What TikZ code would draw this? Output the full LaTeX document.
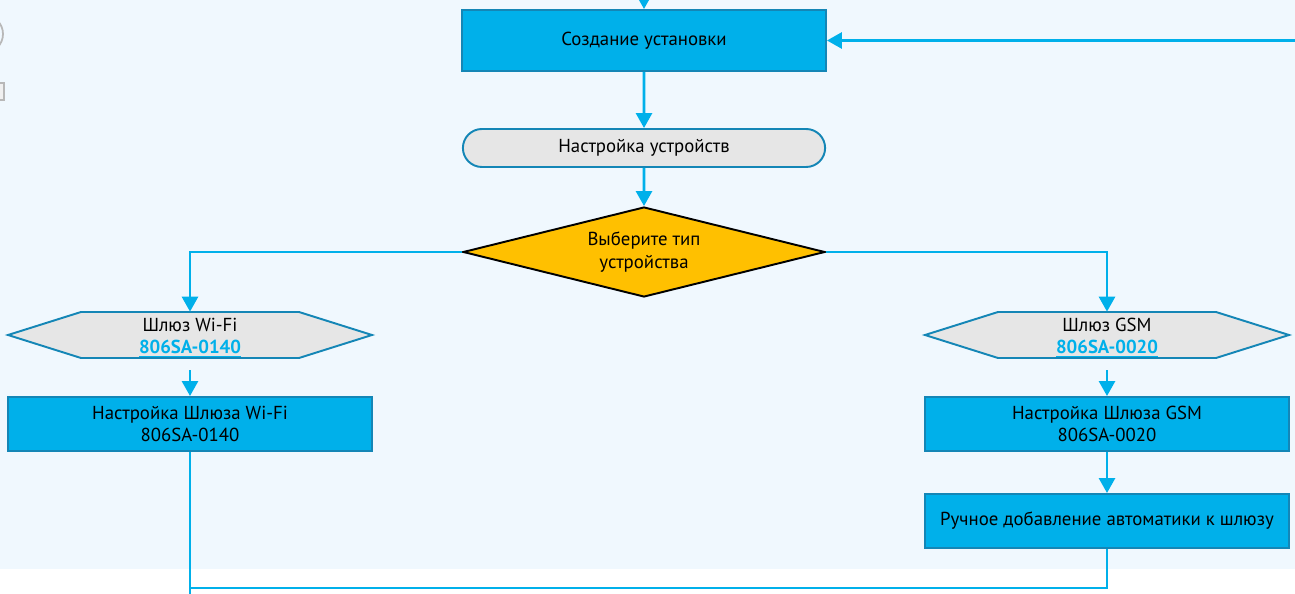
\documentclass[tikz,border=0pt]{standalone}
\usepackage{fontspec}
\setmainfont{PT Sans}
\usepackage{tikz}
\usetikzlibrary{arrows.meta,shapes.geometric,shapes.misc}
\definecolor{flowblue}{HTML}{00B0EA}
\definecolor{boxedge}{HTML}{1486B6}
\definecolor{greyfill}{HTML}{E6E6E6}
\definecolor{bgblue}{HTML}{F0F8FE}
\definecolor{goldfill}{HTML}{FFC000}
\definecolor{fragline}{HTML}{B8B8B8}
\newcommand{\gwcode}[1]{\textcolor{flowblue}{\textbf{\underline{#1}}}}

\begin{document}
\begin{tikzpicture}[x=0.02cm, y=-0.02cm, font=\fontsize{10.7}{12.7}\selectfont,
		box_style/.style={rectangle,draw=boxedge,fill=flowblue,line width=1.1pt,minimum width=7.28cm,minimum height=1.08cm,align=center},
		term_style/.style={rounded rectangle,draw=boxedge,fill=greyfill,line width=1.1pt,minimum width=7.48cm,minimum height=0.76cm},
		dec_style/.style={diamond,aspect=4,draw=black,fill=goldfill,line width=1.1pt,minimum width=7.24cm,minimum height=1.8cm,inner sep=0pt,align=center},
		hex_shape/.style={draw=boxedge,fill=greyfill,line width=1.1pt},
		hex_style/.style={rectangle,minimum width=7.28cm,minimum height=1.04cm,inner sep=0pt,align=center},
		edge_style/.style={color=flowblue,line width=1.6pt,-{Triangle[length=0.3cm,width=0.32cm]}},
		line_style/.style={color=flowblue,line width=1.6pt}]
		
		\useasboundingbox (0,0) rectangle (1295,594);
		\fill[bgblue] (0,0) rectangle (1295,569);
		
		% cut-off shapes on the left edge
		\draw[fragline,line width=1pt] (-16,34) circle (19);
		\draw[fragline,line width=1pt,fill=greyfill!60!white] (-30,83) rectangle (4,100);
		
		% gateway hexagons
		\draw[hex_shape] (8,335) -- (81,312) -- (299,312) -- (372,335) -- (299,358) -- (81,358) -- cycle;
		\draw[hex_shape] (925,335) -- (998,312) -- (1216,312) -- (1289,335) -- (1216,358) -- (998,358) -- cycle;
		
		\coordinate (top) at (644,-5);
		\coordinate (back) at (1300,40.5);
		\coordinate (down) at (190,600);
		\coordinate (join) at (190,588);
		
		\node[box_style,minimum height=1.22cm] (create) at (644,40.5) {Создание установки};
		\node[term_style] (devset) at (644,148) {Настройка устройств};
		\node[dec_style] (choose) at (644,252) {Выберите тип\\устройства};
		\node[hex_style] (wifigw) at (190,338) {Шлюз Wi-Fi\\\gwcode{806SA-0140}};
		\node[hex_style] (gsmgw) at (1107,338) {Шлюз GSM\\\gwcode{806SA-0020}};
		\node[box_style] (wifiset) at (190,424) {Настройка Шлюза Wi-Fi\\806SA-0140};
		\node[box_style] (gsmset) at (1107,424) {Настройка Шлюза GSM\\806SA-0020};
		\node[box_style] (gsmadd) at (1107,521) {Ручное добавление автоматики к шлюзу};
		
		\draw[edge_style] (top) -- (create);
		\draw[edge_style] (back) -- (create);
		\draw[edge_style] (create) -- (devset);
		\draw[edge_style] (devset) -- (choose);
		\draw[edge_style] (choose.west) -| (wifigw.north);
		\draw[edge_style] (choose.east) -| (gsmgw.north);
		\draw[edge_style,shorten <=0.12cm] (wifigw.south) -- (wifiset);
		\draw[edge_style,shorten <=0.12cm] (gsmgw.south) -- (gsmset);
		\draw[edge_style] (gsmset) -- (gsmadd);
		\draw[line_style] (wifiset) -- (down);
		\draw[line_style] (gsmadd) |- (join);
		
\end{tikzpicture}
\end{document}
